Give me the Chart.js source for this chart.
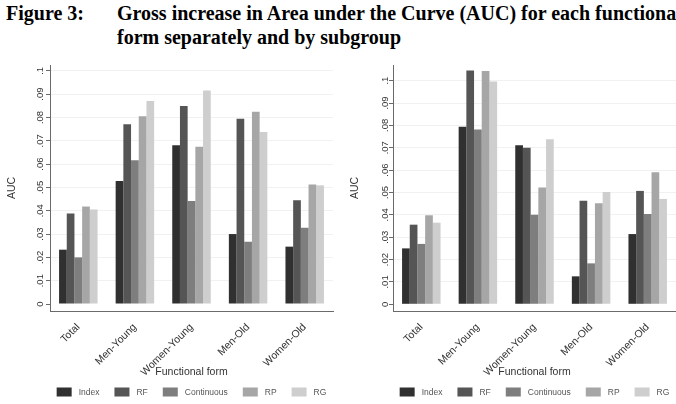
<!DOCTYPE html>
<html>
<head>
<meta charset="utf-8">
<script src="https://cdn.jsdelivr.net/npm/chart.js@4.4.1/dist/chart.umd.min.js"></script>
<style>
  body { margin: 0; width: 676px; height: 404px; overflow: hidden; background: #fff; position: relative; }
  .title { position: absolute; font: bold 20px "Liberation Serif", "Times New Roman", serif; line-height: 24px; white-space: nowrap; color: #000; }
  canvas { position: absolute; top: 55px; }
  #left { left: 0; }
  #right { left: 338px; }
</style>
</head>
<body>
<div class="title" style="left:6px;top:1px">Figure 3:</div>
<div class="title" style="left:117px;top:1px">Gross increase in Area under the Curve (AUC) for each functional<br>form separately and by subgroup</div>
<canvas id="left" width="338" height="349" style="width:338px;height:349px"></canvas>
<canvas id="right" width="338" height="349" style="width:338px;height:349px"></canvas>
<script>
// data
const categories = ['Total', 'Men-Young', 'Women-Young', 'Men-Old', 'Women-Old'];
const seriesNames = ['Index', 'RF', 'Continuous', 'RP', 'RG'];
const seriesColors = ['#303030', '#555555', '#7e7e7e', '#a6a6a6', '#cecece'];

const leftIndex      = [0.0233, 0.0528, 0.0681, 0.0300, 0.0246];
const leftRF         = [0.0388, 0.0771, 0.0849, 0.0794, 0.0445];
const leftContinuous = [0.0200, 0.0617, 0.0442, 0.0267, 0.0327];
const leftRP         = [0.0418, 0.0805, 0.0674, 0.0825, 0.0512];
const leftRG         = [0.0405, 0.0871, 0.0916, 0.0738, 0.0509];

const rightIndex      = [0.0250, 0.0794, 0.0711, 0.0125, 0.0314];
const rightRF         = [0.0356, 0.1045, 0.0700, 0.0463, 0.0507];
const rightContinuous = [0.0270, 0.0782, 0.0400, 0.0183, 0.0404];
const rightRP         = [0.0398, 0.1043, 0.0522, 0.0452, 0.0590];
const rightRG         = [0.0365, 0.0996, 0.0738, 0.0502, 0.0471];

const yTicks = [0, 0.01, 0.02, 0.03, 0.04, 0.05, 0.06, 0.07, 0.08, 0.09, 0.1];
const yTickLabels = ['0', '.01', '.02', '.03', '.04', '.05', '.06', '.07', '.08', '.09', '.1'];

const sans = '"Liberation Sans", Arial, Helvetica, sans-serif';

// stata-ish y labels, turned to read bottom to top
const yLabelsPlugin = {
  id: 'yLabels',
  afterDraw(chart, args, opts) {
    const ctx = chart.ctx;
    const y = chart.scales.y;
    ctx.save();
    ctx.font = '9.5px ' + sans;
    ctx.fillStyle = '#333';
    ctx.textAlign = 'center';
    ctx.textBaseline = 'middle';
    yTicks.forEach((v, i) => {
      ctx.save();
      ctx.translate(opts.x, y.getPixelForValue(v));
      ctx.rotate(-Math.PI / 2);
      ctx.fillText(yTickLabels[i], 0, 0);
      ctx.restore();
    });
    ctx.restore();
  }
};

const legendPlugin = {
  id: 'boxLegend',
  afterDraw(chart, args, opts) {
    const ctx = chart.ctx;
    const area = chart.chartArea;
    const boxW = 15, boxH = 9, textGap = 7, itemGap = 15;
    ctx.save();
    ctx.font = '8.5px ' + sans;
    ctx.textBaseline = 'middle';
    const items = chart.data.datasets.map(d => ({
      label: d.label, color: d.backgroundColor, w: ctx.measureText(d.label).width
    }));
    let total = items.reduce((s, it) => s + boxW + textGap + it.w, 0) + itemGap * (items.length - 1);
    let x = (area.left + area.right) / 2 - total / 2;
    items.forEach(it => {
      ctx.fillStyle = it.color;
      ctx.fillRect(x, opts.y - boxH / 2, boxW, boxH);
      ctx.fillStyle = '#555';
      ctx.fillText(it.label, x + boxW + textGap, opts.y + 0.5);
      x += boxW + textGap + it.w + itemGap;
    });
    ctx.restore();
  }
};

function makeChart(id, values, cfg) {
  return new Chart(document.getElementById(id), {
    type: 'bar',
    data: {
      labels: categories,
      datasets: seriesNames.map((name, i) => ({
        label: name,
        data: values[i],
        backgroundColor: seriesColors[i],
        borderWidth: 0,
        categoryPercentage: 0.68,
        barPercentage: 1.0
      }))
    },
    options: {
      responsive: false,
      animation: false,
      layout: { padding: { top: 10, left: 0, right: cfg.padRight, bottom: 26 } },
      plugins: {
        legend: { display: false },
        tooltip: { enabled: false },
        yLabels: { x: cfg.labelX },
        boxLegend: { y: 337 }
      },
      scales: {
        x: {
          grid: { display: false },
          border: { display: true, color: '#6a6a6a', width: 1 },
          ticks: {
            color: '#333',
            font: { family: sans, size: 10.5 },
            minRotation: 45,
            maxRotation: 45,
            padding: 2,
            autoSkip: false
          },
          title: {
            display: true,
            text: 'Functional form',
            color: '#333',
            font: { family: sans, size: 10.5 },
            padding: 0
          },
          afterFit: s => { s.height = 67; }
        },
        y: {
          min: -0.003,
          max: cfg.yMax,
          afterBuildTicks: s => { s.ticks = yTicks.map(v => ({ value: v })); },
          grid: {
            color: ctx => ctx.tick && ctx.tick.value === 0 ? 'rgba(0,0,0,0)' : '#f1f1f1',
            tickColor: '#6a6a6a',
            tickLength: 4,
            lineWidth: 1
          },
          border: { display: true, color: '#6a6a6a', width: 1 },
          ticks: { display: false },
          title: {
            display: true,
            text: 'AUC',
            color: '#333',
            font: { family: sans, size: 10.5 },
            padding: { top: cfg.titlePad, bottom: 0 }
          },
          afterFit: s => { s.width = cfg.axisWidth; }
        }
      }
    },
    plugins: [yLabelsPlugin, legendPlugin]
  });
}

makeChart('left',
  [leftIndex, leftRF, leftContinuous, leftRP, leftRG],
  { yMax: 0.1025, axisWidth: 50, padRight: 5, labelX: 40, titlePad: 6 });

makeChart('right',
  [rightIndex, rightRF, rightContinuous, rightRP, rightRG],
  { yMax: 0.107, axisWidth: 55, padRight: 0, labelX: 47, titlePad: 11 });
</script>
</body>
</html>
